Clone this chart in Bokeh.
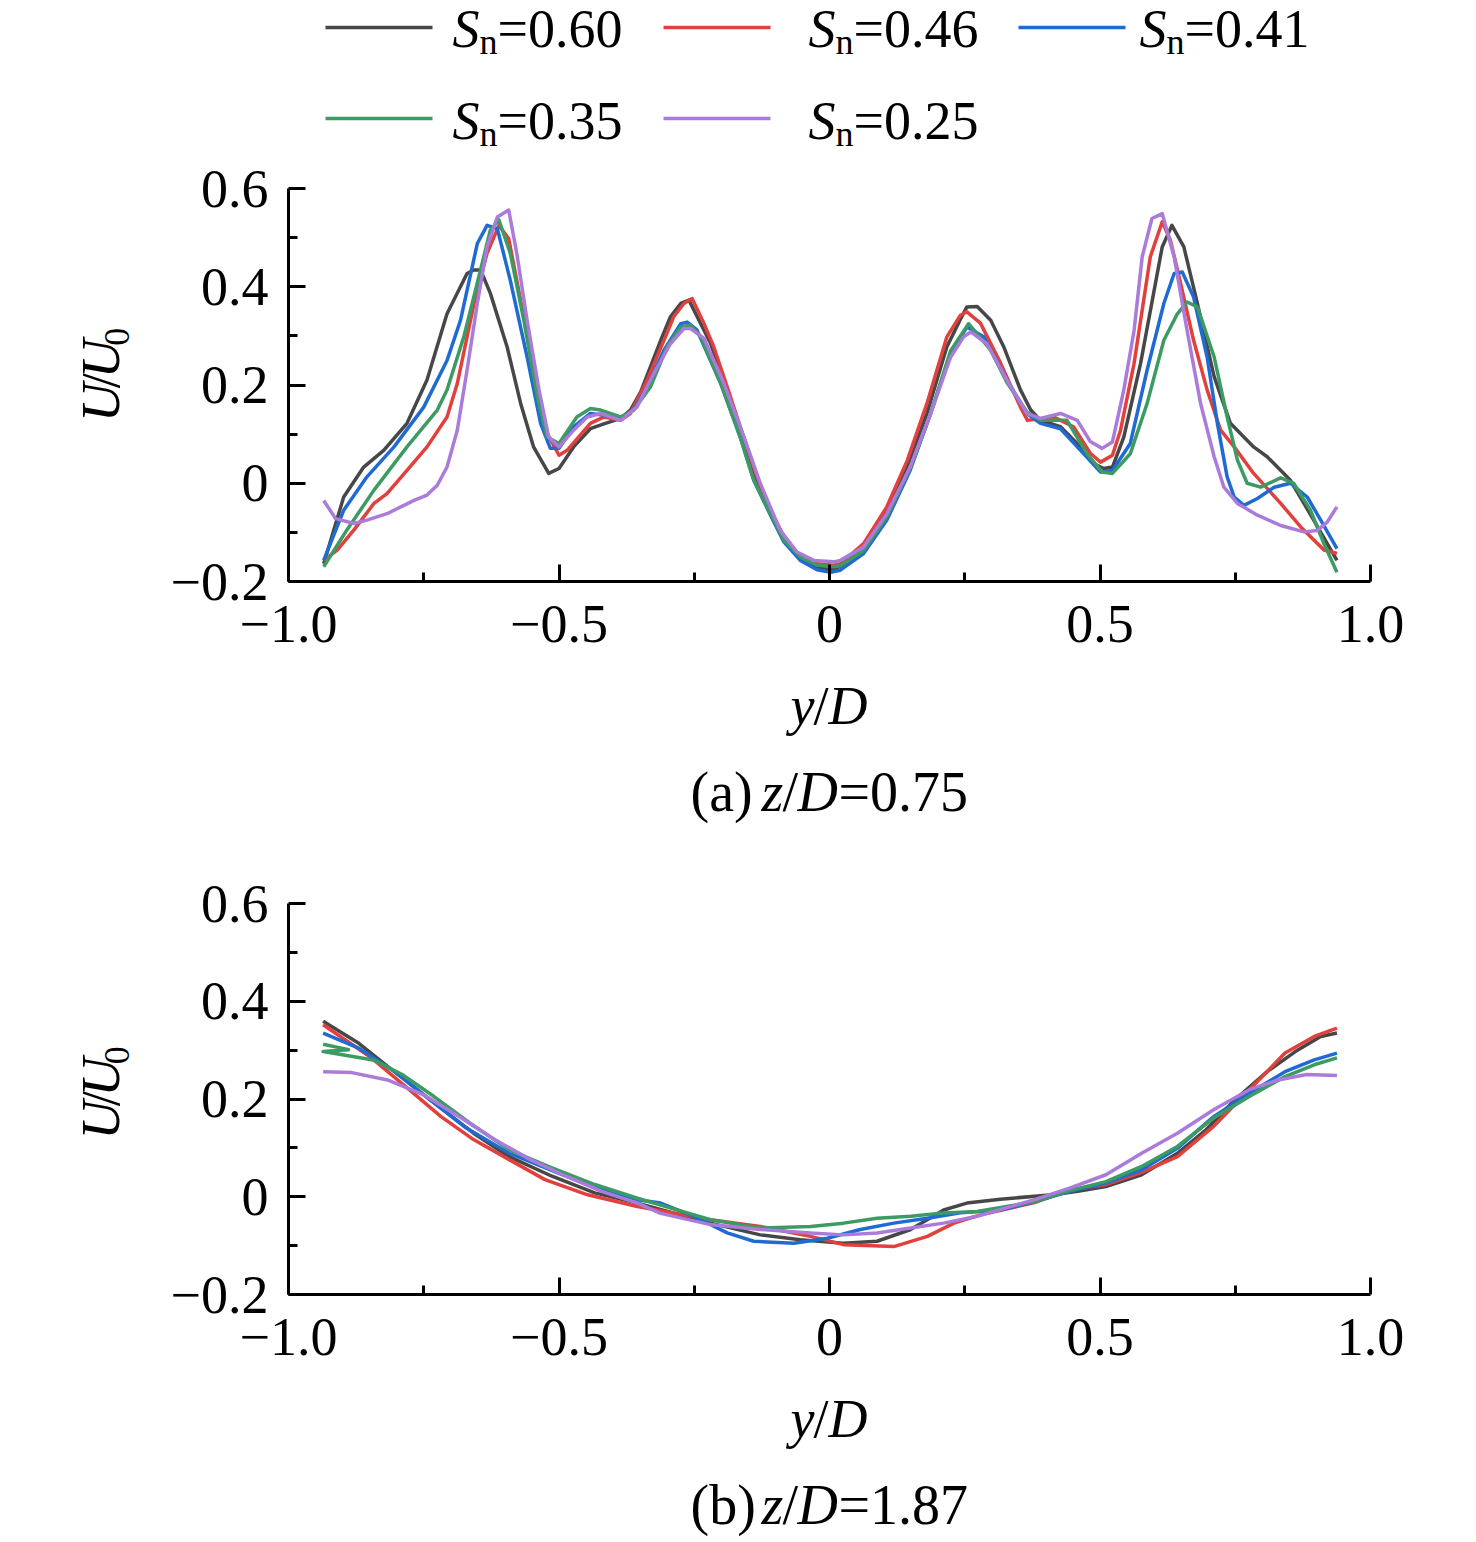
from math import pi

from bokeh.embed import file_html
from bokeh.layouts import column, row
from bokeh.models import FixedTicker, Label, Range1d
from bokeh.plotting import figure
from bokeh.resources import INLINE

# swirl numbers and line colours
sn_labels = ["0.60", "0.46", "0.41", "0.35", "0.25"]
colors = ["#474747", "#e2403c", "#1f6bd3", "#3c9b63", "#ab7bdb"]

# (a) z/D = 0.75
a_x_060 = [-0.935, -0.898, -0.861, -0.824, -0.781, -0.744, -0.707, -0.670, -0.658, -0.645,
           -0.627, -0.596, -0.571, -0.547, -0.519, -0.500, -0.473, -0.442, -0.417, -0.386,
           -0.368, -0.349, -0.312, -0.294, -0.275, -0.260, -0.220, -0.196, -0.165, -0.140,
           -0.115, -0.085, -0.054, -0.023, 0.002, 0.030, 0.063, 0.106, 0.144, 0.180,
           0.217, 0.242, 0.254, 0.273, 0.298, 0.322, 0.353, 0.372, 0.390, 0.427,
           0.464, 0.488, 0.507, 0.523, 0.544, 0.575, 0.615, 0.633, 0.655, 0.680,
           0.711, 0.741, 0.784, 0.809, 0.852, 0.895, 0.938]
a_y_060 = [-0.164, -0.028, 0.033, 0.067, 0.122, 0.210, 0.345, 0.427, 0.434, 0.434,
           0.387, 0.278, 0.163, 0.074, 0.020, 0.030, 0.074, 0.111, 0.121, 0.132,
           0.149, 0.186, 0.291, 0.339, 0.366, 0.373, 0.285, 0.210, 0.108, 0.013,
           -0.048, -0.116, -0.150, -0.170, -0.177, -0.165, -0.130, -0.055, 0.033, 0.142,
           0.278, 0.334, 0.359, 0.360, 0.332, 0.278, 0.190, 0.149, 0.128, 0.115,
           0.074, 0.040, 0.030, 0.033, 0.094, 0.244, 0.481, 0.525, 0.481, 0.366,
           0.217, 0.122, 0.074, 0.054, 0.006, -0.075, -0.157]

a_x_046 = [-0.935, -0.910, -0.879, -0.842, -0.818, -0.781, -0.744, -0.707, -0.688, -0.657,
           -0.633, -0.611, -0.593, -0.571, -0.547, -0.522, -0.500, -0.485, -0.442, -0.417,
           -0.386, -0.368, -0.337, -0.306, -0.288, -0.269, -0.254, -0.232, -0.214, -0.189,
           -0.165, -0.134, -0.109, -0.084, -0.054, -0.023, 0.008, 0.020, 0.063, 0.106,
           0.144, 0.180, 0.217, 0.242, 0.254, 0.279, 0.316, 0.353, 0.366, 0.414,
           0.451, 0.482, 0.501, 0.523, 0.538, 0.563, 0.593, 0.615, 0.630, 0.649,
           0.673, 0.698, 0.723, 0.748, 0.784, 0.834, 0.871, 0.914, 0.938]
a_y_046 = [-0.157, -0.136, -0.095, -0.041, -0.021, 0.026, 0.074, 0.135, 0.203, 0.366,
           0.468, 0.525, 0.498, 0.373, 0.230, 0.102, 0.057, 0.067, 0.122, 0.135,
           0.128, 0.142, 0.210, 0.291, 0.339, 0.366, 0.376, 0.325, 0.278, 0.196,
           0.115, 0.013, -0.055, -0.109, -0.150, -0.164, -0.167, -0.164, -0.123, -0.048,
           0.047, 0.162, 0.298, 0.342, 0.349, 0.326, 0.245, 0.155, 0.128, 0.135,
           0.115, 0.061, 0.043, 0.057, 0.108, 0.244, 0.461, 0.532, 0.495, 0.407,
           0.291, 0.190, 0.108, 0.074, 0.020, -0.041, -0.089, -0.136, -0.143]

a_x_041 = [-0.935, -0.898, -0.855, -0.805, -0.750, -0.707, -0.682, -0.651, -0.633, -0.614,
           -0.590, -0.559, -0.534, -0.516, -0.500, -0.473, -0.442, -0.411, -0.386, -0.362,
           -0.337, -0.306, -0.275, -0.263, -0.245, -0.201, -0.165, -0.140, -0.109, -0.084,
           -0.054, -0.023, 0.002, 0.020, 0.063, 0.106, 0.149, 0.187, 0.224, 0.254,
           0.285, 0.328, 0.365, 0.390, 0.427, 0.464, 0.501, 0.523, 0.556, 0.587,
           0.618, 0.637, 0.652, 0.673, 0.698, 0.717, 0.735, 0.748, 0.766, 0.791,
           0.822, 0.852, 0.883, 0.908, 0.938]
a_y_041 = [-0.157, -0.055, 0.013, 0.074, 0.155, 0.250, 0.332, 0.488, 0.525, 0.518,
           0.413, 0.257, 0.122, 0.071, 0.071, 0.115, 0.142, 0.138, 0.132, 0.149,
           0.196, 0.271, 0.325, 0.328, 0.312, 0.203, 0.094, 0.006, -0.065, -0.120,
           -0.157, -0.176, -0.181, -0.177, -0.143, -0.075, 0.026, 0.142, 0.264, 0.318,
           0.298, 0.210, 0.142, 0.122, 0.111, 0.067, 0.023, 0.026, 0.081, 0.230,
           0.366, 0.427, 0.430, 0.379, 0.257, 0.122, 0.013, -0.028, -0.045, -0.031,
           -0.008, 0.000, -0.028, -0.075, -0.133]

a_x_035 = [-0.935, -0.892, -0.842, -0.781, -0.725, -0.707, -0.676, -0.645, -0.627, -0.611,
           -0.590, -0.565, -0.540, -0.522, -0.500, -0.467, -0.442, -0.423, -0.386, -0.362,
           -0.331, -0.300, -0.275, -0.257, -0.238, -0.201, -0.165, -0.140, -0.109, -0.084,
           -0.054, -0.023, 0.008, 0.020, 0.063, 0.106, 0.149, 0.187, 0.224, 0.257,
           0.298, 0.328, 0.365, 0.390, 0.439, 0.476, 0.504, 0.523, 0.556, 0.587,
           0.618, 0.643, 0.661, 0.680, 0.711, 0.735, 0.754, 0.772, 0.797, 0.834,
           0.858, 0.889, 0.914, 0.938]
a_y_035 = [-0.170, -0.095, -0.014, 0.074, 0.149, 0.190, 0.298, 0.434, 0.515, 0.536,
           0.468, 0.332, 0.176, 0.094, 0.081, 0.135, 0.152, 0.149, 0.135, 0.149,
           0.196, 0.278, 0.318, 0.322, 0.298, 0.203, 0.094, 0.006, -0.062, -0.116,
           -0.150, -0.167, -0.170, -0.168, -0.137, -0.068, 0.030, 0.142, 0.270, 0.325,
           0.271, 0.205, 0.145, 0.128, 0.128, 0.060, 0.023, 0.020, 0.060, 0.162,
           0.291, 0.345, 0.369, 0.359, 0.257, 0.135, 0.047, 0.000, -0.008, 0.011,
           0.000, -0.055, -0.123, -0.181]

a_x_025 = [-0.935, -0.913, -0.879, -0.855, -0.818, -0.768, -0.744, -0.725, -0.707, -0.688,
           -0.670, -0.651, -0.633, -0.614, -0.593, -0.578, -0.559, -0.537, -0.519, -0.500,
           -0.473, -0.448, -0.423, -0.386, -0.356, -0.325, -0.294, -0.269, -0.257, -0.232,
           -0.195, -0.158, -0.128, -0.091, -0.060, -0.029, 0.008, 0.020, 0.063, 0.106,
           0.149, 0.187, 0.224, 0.248, 0.261, 0.291, 0.328, 0.365, 0.390, 0.427,
           0.458, 0.482, 0.504, 0.523, 0.544, 0.563, 0.578, 0.596, 0.615, 0.637,
           0.661, 0.686, 0.711, 0.729, 0.754, 0.791, 0.834, 0.877, 0.902, 0.920,
           0.938]
a_y_025 = [-0.035, -0.072, -0.082, -0.075, -0.062, -0.035, -0.024, -0.004, 0.033, 0.108,
           0.230, 0.366, 0.481, 0.542, 0.556, 0.468, 0.332, 0.190, 0.094, 0.074,
           0.108, 0.135, 0.142, 0.128, 0.155, 0.223, 0.284, 0.315, 0.315, 0.295,
           0.203, 0.094, 0.000, -0.096, -0.140, -0.157, -0.160, -0.157, -0.130, -0.062,
           0.033, 0.142, 0.257, 0.298, 0.308, 0.284, 0.210, 0.142, 0.132, 0.142,
           0.128, 0.085, 0.071, 0.084, 0.190, 0.311, 0.461, 0.539, 0.549, 0.461,
           0.311, 0.162, 0.054, -0.008, -0.041, -0.065, -0.086, -0.099, -0.096, -0.079,
           -0.048]

# (b) z/D = 1.87
b_x_060 = [-0.936, -0.870, -0.817, -0.738, -0.658, -0.592, -0.513, -0.434, -0.355, -0.289,
           -0.220, -0.128, -0.054, 0.026, 0.088, 0.150, 0.211, 0.254, 0.316, 0.412,
           0.459, 0.511, 0.577, 0.643, 0.696, 0.749, 0.809, 0.861, 0.908, 0.938]
b_y_060 = [0.359, 0.314, 0.267, 0.198, 0.130, 0.082, 0.042, 0.008, -0.013, -0.033,
           -0.054, -0.078, -0.088, -0.095, -0.091, -0.067, -0.027, -0.013, -0.005, 0.004,
           0.011, 0.021, 0.045, 0.089, 0.137, 0.198, 0.256, 0.297, 0.328, 0.335]

b_x_046 = [-0.936, -0.850, -0.784, -0.718, -0.658, -0.592, -0.526, -0.447, -0.355, -0.220,
           -0.128, -0.035, 0.026, 0.119, 0.181, 0.230, 0.279, 0.379, 0.445, 0.511,
           0.577, 0.643, 0.710, 0.776, 0.842, 0.896, 0.938]
b_y_046 = [0.352, 0.287, 0.226, 0.164, 0.117, 0.076, 0.035, 0.004, -0.020, -0.047,
           -0.061, -0.081, -0.098, -0.102, -0.081, -0.054, -0.037, -0.012, 0.014, 0.025,
           0.050, 0.082, 0.144, 0.219, 0.294, 0.328, 0.345]

b_x_041 = [-0.936, -0.870, -0.804, -0.738, -0.672, -0.592, -0.500, -0.421, -0.355, -0.312,
           -0.251, -0.189, -0.140, -0.066, -0.004, 0.057, 0.119, 0.181, 0.242, 0.316,
           0.379, 0.445, 0.511, 0.577, 0.643, 0.710, 0.776, 0.842, 0.896, 0.938]
b_y_041 = [0.335, 0.304, 0.256, 0.198, 0.141, 0.089, 0.048, 0.014, -0.006, -0.013,
           -0.040, -0.074, -0.091, -0.095, -0.085, -0.067, -0.054, -0.044, -0.033, -0.027,
           -0.010, 0.011, 0.028, 0.055, 0.099, 0.164, 0.212, 0.256, 0.280, 0.294]

b_x_035 = [-0.936, -0.889, -0.936, -0.843, -0.790, -0.731, -0.665, -0.592, -0.513, -0.434,
           -0.355, -0.312, -0.220, -0.128, -0.035, 0.026, 0.088, 0.150, 0.211, 0.273,
           0.379, 0.445, 0.511, 0.577, 0.643, 0.710, 0.776, 0.842, 0.896, 0.938]
b_y_035 = [0.312, 0.301, 0.297, 0.280, 0.250, 0.205, 0.151, 0.096, 0.059, 0.025,
           -0.003, -0.017, -0.047, -0.064, -0.061, -0.054, -0.044, -0.040, -0.033, -0.030,
           -0.010, 0.013, 0.031, 0.062, 0.103, 0.161, 0.205, 0.246, 0.270, 0.284]

b_x_025 = [-0.936, -0.883, -0.817, -0.751, -0.685, -0.619, -0.553, -0.487, -0.421, -0.355,
           -0.312, -0.220, -0.128, -0.035, 0.026, 0.088, 0.150, 0.211, 0.273, 0.379,
           0.445, 0.511, 0.577, 0.643, 0.710, 0.776, 0.829, 0.882, 0.938]
b_y_025 = [0.256, 0.254, 0.239, 0.209, 0.164, 0.117, 0.076, 0.042, 0.011, -0.013,
           -0.034, -0.057, -0.067, -0.074, -0.078, -0.074, -0.064, -0.054, -0.040, -0.006,
           0.018, 0.045, 0.089, 0.130, 0.178, 0.219, 0.239, 0.250, 0.248]

x_ticks = [-1.0, -0.5, 0.0, 0.5, 1.0]
x_tick_labels = ["\u22121.0", "\u22120.5", "0", "0.5", "1.0"]
y_ticks = [-0.2, 0.0, 0.2, 0.4, 0.6]
y_tick_labels = ["\u22120.2", "0", "0.2", "0.4", "0.6"]

FONT = "Liberation Serif"
TOTAL_W = 1470
YLAB_W = 150
PANEL_W = TOTAL_W - YLAB_W
LINE_W = 3.5


def blank(w, h):
    # text-only strip, data units == pixels (y downwards)
    f = figure(width=w, height=h, x_range=Range1d(0, w), y_range=Range1d(h, 0),
               output_backend="svg", toolbar_location=None, tools="",
               x_axis_type=None, y_axis_type=None, min_border=0)
    f.outline_line_color = None
    f.background_fill_color = "white"
    f.border_fill_color = "white"
    return f


def put(f, x, y, text, size=54, italic=False):
    # y is the wanted baseline; bokeh draws "alphabetic" about 0.37 em low here
    f.add_layout(Label(x=x, y=y - 0.37 * size, text=text,
                       text_font=FONT, text_font_size=f"{size}px",
                       text_font_style="italic" if italic else "normal",
                       text_color="black", text_align="left",
                       text_baseline="alphabetic"))


def put_up(f, x, y, text, size=54, italic=False):
    # rotated piece, anchored at its own centre
    f.add_layout(Label(x=x, y=y, text=text, angle=pi / 2,
                       text_font=FONT, text_font_size=f"{size}px",
                       text_font_style="italic" if italic else "normal",
                       text_color="black", text_align="center",
                       text_baseline="middle"))


def make_panel(xs, ys, height, b_top, b_bottom):
    p = figure(width=PANEL_W, height=height, x_range=Range1d(-1, 1), y_range=Range1d(-0.2, 0.6),
               output_backend="svg", toolbar_location=None, tools="",
               min_border_left=288 - YLAB_W, min_border_right=PANEL_W - (288 - YLAB_W) - 1082,
               min_border_top=b_top, min_border_bottom=b_bottom)
    p.outline_line_color = None
    p.xgrid.visible = False
    p.ygrid.visible = False
    p.background_fill_color = "white"
    p.border_fill_color = "white"

    for ax in (p.xaxis, p.yaxis):
        ax.axis_line_width = 3
        ax.axis_line_color = "black"
        ax.major_tick_in = 17
        ax.major_tick_out = 0
        ax.minor_tick_in = 9
        ax.minor_tick_out = 0
        ax.major_tick_line_width = 3
        ax.minor_tick_line_width = 3
        ax.major_tick_line_color = "black"
        ax.minor_tick_line_color = "black"
        ax.major_label_text_font = FONT
        ax.major_label_text_font_size = "54px"
        ax.major_label_text_color = "black"

    p.xaxis.ticker = FixedTicker(ticks=x_ticks, minor_ticks=[-0.75, -0.25, 0.25, 0.75])
    p.yaxis.ticker = FixedTicker(ticks=y_ticks, minor_ticks=[-0.1, 0.1, 0.3, 0.5])
    p.xaxis.major_label_overrides = dict(zip(x_ticks, x_tick_labels))
    p.yaxis.major_label_overrides = dict(zip(y_ticks, y_tick_labels))
    p.xaxis.major_label_standoff = 24
    p.yaxis.major_label_standoff = 20

    for x, y, c in zip(xs, ys, colors):
        p.line(x, y, line_color=c, line_width=LINE_W, line_join="round")
    return p


def y_title(height, center):
    # rotated U/U0, center is the frame middle in strip pixels
    f = blank(YLAB_W, height)
    start = center + 71
    put_up(f, 100, start - 19.5, "U", italic=True)
    put_up(f, 100, start - 48, "/")
    put_up(f, 100, start - 77, "U", italic=True)
    put_up(f, 116, start - 106, "0", size=36)
    return f


def x_titles(height, tag, zval):
    f = blank(TOTAL_W, height)
    base = 54
    put(f, 790, base, "y", italic=True)
    put(f, 813, base, "/")
    put(f, 828, base, "D", italic=True)
    base = 141
    put(f, 690, base, f"({tag})", size=56)
    put(f, 761, base, "z", italic=True, size=56)
    put(f, 782, base, "/", size=56)
    put(f, 797, base, "D", italic=True, size=56)
    put(f, 838, base, "=" + zval, size=56)
    return f


# legend strip
leg = blank(TOTAL_W, 155)
leg_pos = [(325, 452, 27, 48), (663, 808, 27, 48), (1018, 1139, 27, 48),
           (325, 452, 118, 140), (663, 808, 118, 140)]
for (lx, tx, ly, base), c, sn in zip(leg_pos, colors, sn_labels):
    leg.segment(x0=[lx], y0=[ly], x1=[lx + 107], y1=[ly], line_color=c, line_width=LINE_W)
    put(leg, tx, base, "S", italic=True)
    put(leg, tx + 27, base + 7, "n", size=36)
    put(leg, tx + 45, base, "=" + sn)

xs_a = [a_x_060, a_x_046, a_x_041, a_x_035, a_x_025]
ys_a = [a_y_060, a_y_046, a_y_041, a_y_035, a_y_025]
xs_b = [b_x_060, b_x_046, b_x_041, b_x_035, b_x_025]
ys_b = [b_y_060, b_y_046, b_y_041, b_y_035, b_y_025]

# panel (a): page y 155..671, frame 188..581
p1 = make_panel(xs_a, ys_a, 516, 33, 90)
row1 = row(y_title(516, 33 + 393 / 2), p1)
cap1 = x_titles(189, "a", "0.75")

# panel (b): page y 860..1384, frame 903..1294
p2 = make_panel(xs_b, ys_b, 524, 43, 90)
row2 = row(y_title(524, 43 + 391 / 2), p2)
cap2 = x_titles(156, "b", "1.87")

layout = column(leg, row1, cap1, row2, cap2)
open("out.html", "w").write(file_html(layout, INLINE))
